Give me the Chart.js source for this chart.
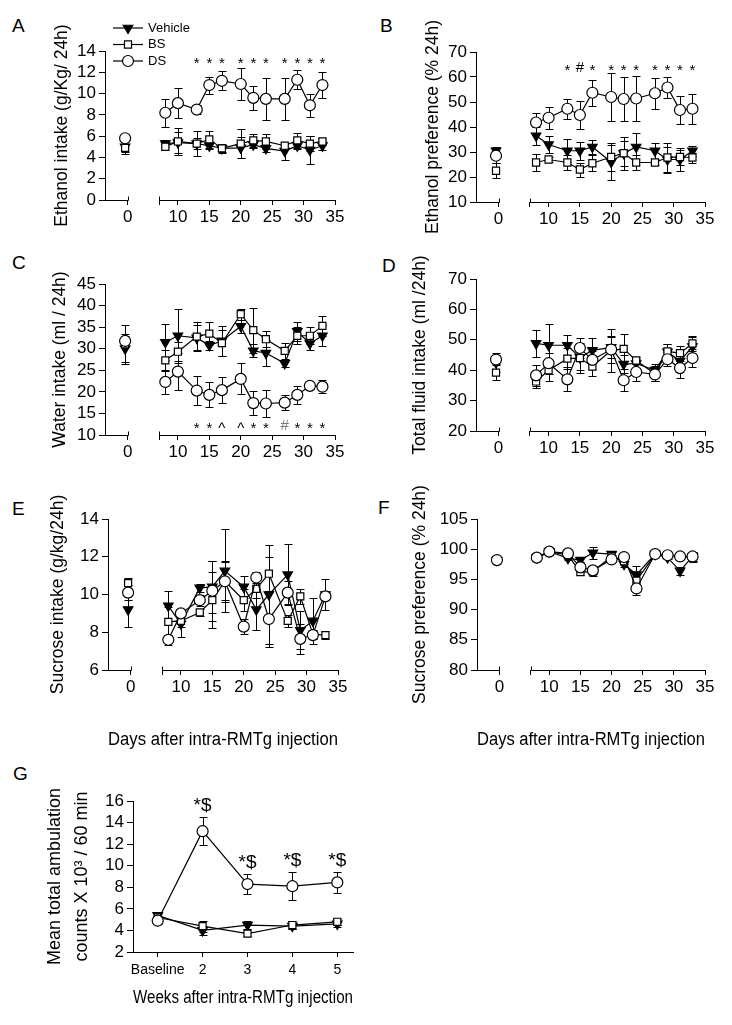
<!DOCTYPE html>
<html lang="en">
<head>
<meta charset="UTF-8">
<title>Intra-RMTg injection: ethanol, water, sucrose and ambulation</title>
<script src="https://cdn.jsdelivr.net/npm/chart.js"></script>
<style>
  body {
    margin: 0;
    background: #fff;
    width: 732px;
    height: 1025px;
    position: relative;
    overflow: hidden;
    font-family: 'Liberation Sans', Arial, sans-serif;
  }
  .letter {
    position: absolute;
    font-size: 19px;
    line-height: 1;
    color: #000;
  }
</style>
</head>
<body>
<div class="letter" style="left:12px;top:16px">A</div>
<div class="letter" style="left:380px;top:16px">B</div>
<div class="letter" style="left:12px;top:253px">C</div>
<div class="letter" style="left:382px;top:256px">D</div>
<div class="letter" style="left:12px;top:499px">E</div>
<div class="letter" style="left:378px;top:498px">F</div>
<div class="letter" style="left:13px;top:764px">G</div>

<script>
// days of measurement (0 = baseline before injection)
const days = [0, 8, 10, 13, 15, 17, 20, 22, 24, 27, 29, 31, 33];
const dayTicks = [10, 15, 20, 25, 30, 35];
const sigDays = [13, 15, 17, 20, 22, 24, 27, 29, 31, 33];

// A - ethanol intake (g/kg/24h)
const aVeh = [5.0, 5.3, 5.4, 5.3, 5.1, 4.85, 4.9, 5.2, 4.85, 4.6, 5.1, 4.7, 5.1];
const aVehErr = [0.7, 0.3, 1.0, 1.2, 0.3, 0.3, 1.0, 0.3, 0.3, 0.8, 0.3, 1.3, 0.4];
const aBs = [4.9, 5.0, 5.5, 5.3, 5.7, 4.85, 5.3, 5.6, 5.5, 5.1, 5.6, 5.3, 5.5];
const aBsErr = [0.4, 0.3, 1.3, 0.5, 0.8, 0.4, 1.4, 0.6, 0.7, 0.3, 0.7, 0.7, 0.3];
const aDs = [5.8, 8.2, 9.1, 8.5, 10.8, 11.2, 10.9, 9.6, 9.5, 9.5, 11.3, 8.9, 10.8];
const aDsErr = [0.3, 1.3, 1.4, 0.4, 0.8, 0.9, 1.5, 1.1, 2.0, 2.0, 0.9, 1.1, 1.2];
const aSig = ['*', '*', '*', '*', '*', '*', '*', '*', '*', '*'];

// B - ethanol preference (%)
const bVeh = [30.5, 36.5, 33.0, 30.5, 30.5, 32.0, 26.0, 29.5, 32.0, 30.5, 27.0, 27.0, 30.5];
const bVehErr = [1.5, 3.5, 3.3, 4.5, 3.7, 2.7, 7.0, 6.5, 5.8, 3.2, 5.0, 4.5, 2.0];
const bBs = [22.5, 25.8, 27.0, 25.8, 23.0, 25.5, 28.0, 29.5, 25.8, 25.8, 27.8, 28.0, 27.8];
const bBsErr = [3.0, 3.3, 1.0, 3.0, 2.8, 3.2, 5.5, 5.0, 3.0, 1.0, 6.0, 3.0, 2.0];
const bDs = [28.5, 41.8, 43.7, 47.3, 44.8, 53.7, 52.0, 51.2, 51.4, 53.5, 55.8, 46.8, 47.3];
const bDsErr = [3.0, 4.0, 4.5, 4.0, 5.7, 5.2, 9.5, 8.7, 9.2, 6.2, 4.3, 5.5, 6.0];
const bSig = ['*', '#', '*', '*', '*', '*', '*', '*', '*', '*'];

// C - water intake (ml/24h)
const cVeh = [30.0, 31.5, 33.0, 32.5, 30.8, 31.8, 35.2, 29.5, 29.0, 26.6, 34.0, 31.2, 33.0];
const cVehErr = [3.0, 4.2, 6.2, 2.9, 1.0, 3.5, 1.5, 1.5, 3.0, 0.8, 2.3, 1.5, 2.4];
const cBs = [31.0, 27.3, 29.3, 32.8, 33.5, 31.3, 38.0, 34.3, 32.2, 29.5, 33.0, 33.0, 35.3];
const cBsErr = [4.5, 2.5, 2.2, 3.3, 2.6, 3.0, 1.3, 5.2, 1.9, 1.8, 2.0, 2.0, 2.3];
const cDs = [31.8, 22.3, 24.7, 20.3, 19.3, 20.4, 23.0, 17.4, 17.3, 17.5, 19.3, 21.4, 21.2];
const cDsErr = [1.5, 2.8, 4.3, 3.4, 2.9, 3.0, 3.6, 2.7, 3.2, 1.8, 2.0, 0.8, 1.5];
const cSig = ['*', '*', '^', '^', '*', '*', '#', '*', '*', '*'];

// D - total fluid intake (ml/24h)
const dVeh = [42.5, 48.8, 48.2, 48.2, 44.2, 46.5, 47.5, 42.0, 42.2, 40.0, 46.0, 43.0, 47.8];
const dVehErr = [3.0, 4.5, 7.0, 3.3, 4.0, 4.2, 3.5, 3.0, 1.5, 2.0, 2.7, 1.8, 3.0];
const dBs = [39.2, 36.3, 40.0, 43.8, 44.0, 41.2, 46.5, 47.0, 43.2, 38.8, 46.2, 45.6, 48.8];
const dBsErr = [2.5, 2.0, 3.5, 3.5, 5.0, 3.0, 7.0, 5.0, 1.2, 2.5, 2.3, 2.5, 2.5];
const dDs = [43.5, 38.3, 42.3, 37.0, 47.3, 43.4, 46.8, 36.7, 39.4, 38.6, 43.6, 40.7, 44.0];
const dDsErr = [1.5, 3.5, 3.5, 4.0, 3.4, 3.0, 4.5, 3.7, 3.0, 2.0, 2.3, 3.3, 3.0];

// E - sucrose intake (g/kg/24h)
const eVeh = [9.2, 9.4, 8.45, 10.35, 10.4, 11.25, 10.4, 9.2, 10.0, 11.05, 8.1, 8.6, 10.0];
const eVehErr = [0.9, 0.8, 0.7, 0.2, 1.4, 2.2, 0.6, 1.1, 2.6, 1.6, 1.0, 1.2, 0.8];
const eBs = [10.6, 8.55, 8.6, 9.05, 9.7, 10.7, 9.7, 10.3, 11.1, 8.6, 9.9, 7.9, 7.85];
const eBsErr = [0.3, 0.8, 0.3, 0.2, 1.5, 1.0, 0.6, 0.5, 0.9, 0.3, 0.4, 0.2, 0.2];
const eDs = [10.1, 7.6, 9.0, 9.7, 10.2, 10.7, 8.3, 10.9, 8.7, 10.1, 7.65, 7.85, 9.9];
const eDsErr = [0.4, 0.25, 0.1, 0.3, 1.6, 1.1, 0.4, 0.3, 1.5, 0.6, 0.8, 0.2, 0.2];

// F - sucrose preference (%)
const fVeh = [98.2, 98.6, 99.6, 98.5, 98.2, 99.4, 99.2, 97.5, 95.8, 99.2, 98.6, 96.4, 98.8];
const fVehErr = [0.2, 0.2, 0.2, 0.3, 0.3, 1.0, 0.3, 0.4, 1.5, 0.3, 0.3, 0.6, 0.8];
const fBs = [98.2, 98.6, 99.6, 99.0, 96.2, 96.3, 98.8, 98.0, 94.8, 99.2, 99.0, 98.8, 98.6];
const fBsErr = [0.2, 0.2, 0.2, 0.3, 0.4, 0.8, 0.3, 0.4, 1.5, 0.3, 0.3, 0.3, 0.8];
const fDs = [98.2, 98.6, 99.6, 99.3, 97.0, 96.5, 98.3, 98.7, 93.5, 99.2, 99.0, 98.8, 98.8];
const fDsErr = [0.2, 0.2, 0.2, 0.2, 0.4, 0.6, 0.3, 0.3, 1.0, 0.3, 0.3, 0.3, 0.8];

// G - ambulation (counts x 10^3 / 60 min)
const weeks = ['Baseline', '2', '3', '4', '5'];
const gVeh = [5.4, 4.0, 4.5, 4.4, 4.6];
const gVehErr = [0.2, 0.4, 0.4, 0.3, 0.3];
const gBs = [5.2, 4.4, 3.7, 4.5, 4.8];
const gBsErr = [0.3, 0.5, 0.2, 0.4, 0.3];
const gDs = [4.9, 13.2, 8.3, 8.1, 8.45];
const gDsErr = [0.3, 1.3, 0.9, 1.3, 1.0];
const gSig = ['', '*$', '*$', '*$', '*$'];

// ---------------------------------------------------------------
Chart.defaults.font.family = "'Liberation Sans', Arial, sans-serif";
Chart.defaults.font.size = 17;
Chart.defaults.color = '#000';
Chart.defaults.animation = false;

const BASE_X = 2;     // where baseline (day 0) sits on the broken axis
const GAP_END = 7;    // right part of the axis starts here
const dayX = days.map(d => d === 0 ? BASE_X - 0.4 : d);
const weekX = weeks.map((w, i) => i);

const LOOK = {
  Vehicle: { pointStyle: 'triangle', pointRotation: 180, pointRadius: 5.5, pointBackgroundColor: '#000', order: 2 },
  BS: { pointStyle: 'rect', pointRadius: 5, pointBackgroundColor: '#fff', order: 1 },
  DS: { pointStyle: 'circle', pointRadius: 5.5, pointBackgroundColor: '#fff', order: 0 }
};

function series(label, xs, vals, errs, broken) {
  const ds = Object.assign({
    label: label,
    data: vals.map((v, i) => ({ x: xs[i], y: v })),
    errors: errs,
    borderColor: '#000',
    borderWidth: 1.2,
    pointBorderColor: '#000',
    pointBorderWidth: 1.2,
    clip: false
  }, LOOK[label]);
  // no line between baseline and the first post-injection day
  if (broken) ds.segment = { borderColor: c => c.p0DataIndex === 0 ? 'rgba(0,0,0,0)' : '#000' };
  return ds;
}

// error bars, drawn under the markers
const errorBars = {
  id: 'errorBars',
  beforeDatasetsDraw(chart) {
    const { ctx, scales: { x, y } } = chart;
    ctx.save();
    ctx.strokeStyle = '#000';
    ctx.lineWidth = 1;
    chart.data.datasets.forEach(ds => {
      ds.data.forEach((p, i) => {
        const e = ds.errors[i];
        if (!e) return;
        const px = Math.round(x.getPixelForValue(p.x)) + 0.5;
        const y1 = Math.round(y.getPixelForValue(p.y + e)) + 0.5;
        const y2 = Math.round(y.getPixelForValue(p.y - e)) + 0.5;
        ctx.beginPath();
        ctx.moveTo(px, y1); ctx.lineTo(px, y2);
        ctx.moveTo(px - 4, y1); ctx.lineTo(px + 4, y1);
        ctx.moveTo(px - 4, y2); ctx.lineTo(px + 4, y2);
        ctx.stroke();
      });
    });
    ctx.restore();
  }
};

// x axis in two pieces: baseline | gap | days 7-35, with end caps
const brokenAxis = {
  id: 'brokenAxis',
  afterDraw(chart, args, opts) {
    if (!opts.on) return;
    const { ctx, chartArea: a, scales: { x } } = chart;
    const yb = Math.round(a.bottom) + 0.5;
    const xb = Math.round(x.getPixelForValue(BASE_X)) + 0.5;
    const xg = Math.round(x.getPixelForValue(GAP_END)) + 0.5;
    ctx.save();
    ctx.strokeStyle = '#000';
    ctx.lineWidth = 1;
    ctx.beginPath();
    ctx.moveTo(a.left, yb); ctx.lineTo(xb, yb);
    ctx.moveTo(xg, yb); ctx.lineTo(a.right, yb);
    ctx.moveTo(xb, yb - 4); ctx.lineTo(xb, yb);
    ctx.moveTo(xg, yb - 4); ctx.lineTo(xg, yb);
    ctx.stroke();
    ctx.restore();
  }
};

// significance symbols on a fixed row
const RISE = { '*': 0.56, '#': 0.36, '^': 0.56 };
const sigMarks = {
  id: 'sigMarks',
  afterDatasetsDraw(chart, args, opts) {
    if (!opts.marks) return;
    const { ctx, scales: { x, y } } = chart;
    ctx.save();
    ctx.font = "15px 'Liberation Sans', Arial, sans-serif";
    ctx.textAlign = 'center';
    ctx.textBaseline = 'alphabetic';
    opts.marks.forEach((m, i) => {
      ctx.fillStyle = (opts.faint && m === opts.faint) ? '#777' : '#000';
      const py = y.getPixelForValue(opts.level) + RISE[m] * 15;
      ctx.fillText(m, x.getPixelForValue(opts.days[i]), py);
    });
    ctx.restore();
  }
};

// "*$" above the DS error bar in panel G
const starOver = {
  id: 'starOver',
  afterDatasetsDraw(chart, args, opts) {
    if (!opts.marks) return;
    const { ctx, scales: { x, y } } = chart;
    const ds = chart.data.datasets.find(d => d.label === 'DS');
    ctx.save();
    ctx.font = "19px 'Liberation Sans', Arial, sans-serif";
    ctx.textAlign = 'center';
    ctx.textBaseline = 'alphabetic';
    ctx.fillStyle = '#000';
    opts.marks.forEach((m, i) => {
      if (!m) return;
      const p = ds.data[i];
      ctx.fillText(m, x.getPixelForValue(p.x), y.getPixelForValue(p.y + ds.errors[i]) - 6);
    });
    ctx.restore();
  }
};

// little legend inside panel A
const lineLegend = {
  id: 'lineLegend',
  afterDraw(chart, args, opts) {
    if (!opts.on) return;
    const { ctx, chartArea: a } = chart;
    const rows = ['Vehicle', 'BS', 'DS'];
    ctx.save();
    ctx.font = "13px 'Liberation Sans', Arial, sans-serif";
    ctx.textBaseline = 'middle';
    rows.forEach((name, i) => {
      const ly = a.top - 23 + i * 16.5;
      const look = LOOK[name];
      ctx.strokeStyle = '#000';
      ctx.lineWidth = 1.2;
      ctx.beginPath();
      ctx.moveTo(a.left + 8, ly); ctx.lineTo(a.left + 38, ly);
      ctx.stroke();
      ctx.fillStyle = look.pointBackgroundColor;
      Chart.helpers.drawPoint(ctx, {
        pointStyle: look.pointStyle, rotation: look.pointRotation || 0,
        radius: look.pointRadius, borderWidth: 1.2
      }, a.left + 23, ly);
      ctx.fillStyle = '#000';
      ctx.fillText(name, a.left + 43, ly);
    });
    ctx.restore();
  }
};

function panel(g, datasets, xScale, yScale, pluginOpts) {
  const size = g.titleSize || 17.5;
  const lh = g.titleLH || 1.2;
  const left = Math.round(g.titleX - lh * size / 2);
  const top = g.t - g.padTop;
  const w = g.r + g.padRight - left;
  const h = g.b + g.xH - top;
  const yW = g.l - left;

  const canvas = document.createElement('canvas');
  canvas.width = w;
  canvas.height = h;
  canvas.style.cssText = `position:absolute;left:${left}px;top:${top}px;width:${w}px;height:${h}px`;
  document.body.appendChild(canvas);

  xScale.afterFit = s => { s.height = g.xH; };
  new Chart(canvas, {
    type: 'line',
    data: { datasets: datasets },
    options: {
      responsive: false,
      devicePixelRatio: 1,
      layout: { padding: { top: g.padTop, right: g.padRight, left: 0, bottom: 0 } },
      plugins: Object.assign({ legend: { display: false }, tooltip: { enabled: false } }, pluginOpts),
      scales: {
        x: xScale,
        y: {
          min: yScale.min,
          max: yScale.max,
          ticks: { stepSize: yScale.step, autoSkip: false, padding: 3, color: '#000', font: { size: 17 } },
          grid: { drawOnChartArea: false, tickLength: 6, color: '#000' },
          border: { color: '#000', width: 1 },
          title: { display: true, text: yScale.title, padding: 0, color: '#000', font: { size: size, lineHeight: lh } },
          afterFit: s => { s.width = yW; }
        }
      }
    },
    plugins: [errorBars, brokenAxis, sigMarks, starOver, lineLegend]
  });
}

function dayAxis(title) {
  const ax = {
    type: 'linear',
    min: -1.6,
    max: 35,
    afterBuildTicks: s => {
      s.ticks = [BASE_X, GAP_END].concat(dayTicks).map(v => ({ value: v }));
    },
    ticks: {
      autoSkip: false,
      maxRotation: 0,
      padding: 2,
      color: '#000',
      font: { size: 17 },
      callback: v => v === BASE_X ? '0' : (v === GAP_END ? '' : v)
    },
    grid: { drawOnChartArea: false, tickLength: 5, color: '#000' },
    border: { display: false }
  };
  if (title) ax.title = { display: true, text: title, padding: 0, color: '#000', font: { size: 18, lineHeight: 1.2 } };
  return ax;
}

function dayPanel(g, veh, vehErr, bs, bsErr, dsv, dsErr, yScale, title, extra) {
  const sets = [
    series('Vehicle', dayX, veh, vehErr, true),
    series('BS', dayX, bs, bsErr, true),
    series('DS', dayX, dsv, dsErr, true)
  ];
  panel(g, sets, dayAxis(title), yScale, Object.assign({ brokenAxis: { on: true } }, extra || {}));
}

dayPanel({ l: 105, t: 51, r: 335, b: 200, titleX: 62, padTop: 36, padRight: 22, xH: 45 },
  aVeh, aVehErr, aBs, aBsErr, aDs, aDsErr,
  { min: 0, max: 14, step: 2, title: 'Ethanol intake (g/Kg/ 24h)' }, null,
  { sigMarks: { marks: aSig, days: sigDays, level: 13.2 }, lineLegend: { on: true } });

dayPanel({ l: 476, t: 52, r: 705, b: 202, titleX: 433, padTop: 36, padRight: 22, xH: 45 },
  bVeh, bVehErr, bBs, bBsErr, bDs, bDsErr,
  { min: 10, max: 70, step: 10, title: 'Ethanol preference (% 24h)' }, null,
  { sigMarks: { marks: bSig, days: sigDays, level: 64 } });

dayPanel({ l: 105, t: 284, r: 335, b: 435, titleX: 60, padTop: 30, padRight: 22, xH: 45 },
  cVeh, cVehErr, cBs, cBsErr, cDs, cDsErr,
  { min: 10, max: 45, step: 5, title: 'Water intake (ml / 24h)' }, null,
  { sigMarks: { marks: cSig, days: sigDays, level: 12.5, faint: '#' } });

dayPanel({ l: 476, t: 279, r: 705, b: 431, titleX: 420, padTop: 30, padRight: 22, xH: 45 },
  dVeh, dVehErr, dBs, dBsErr, dDs, dDsErr,
  { min: 20, max: 70, step: 10, title: 'Total fluid intake (ml /24h)' }, null, {});

dayPanel({ l: 108, t: 519, r: 338, b: 670, titleX: 58, padTop: 35, padRight: 22, xH: 81 },
  eVeh, eVehErr, eBs, eBsErr, eDs, eDsErr,
  { min: 6, max: 14, step: 2, title: 'Sucrose intake (g/kg/24h)' }, 'Days after intra-RMTg injection', {});

dayPanel({ l: 477, t: 519, r: 705, b: 670, titleX: 420, padTop: 35, padRight: 22, xH: 81 },
  fVeh, fVehErr, fBs, fBsErr, fDs, fDsErr,
  { min: 80, max: 105, step: 5, title: 'Sucrose preference (% 24h)' }, 'Days after intra-RMTg injection', {});

// G - weekly ambulation
panel({ l: 133, t: 801, r: 353, b: 952, titleX: 55, titleSize: 18, titleLH: 27 / 18, padTop: 40, padRight: 22, xH: 57 },
  [
    series('Vehicle', weekX, gVeh, gVehErr, false),
    series('BS', weekX, gBs, gBsErr, false),
    series('DS', weekX, gDs, gDsErr, false)
  ],
  {
    type: 'linear',
    min: -0.55,
    max: 4.35,
    afterBuildTicks: s => { s.ticks = weekX.map(v => ({ value: v })); },
    ticks: { autoSkip: false, maxRotation: 0, padding: 5, color: '#000', font: { size: 14 }, callback: v => weeks[v] },
    grid: { drawOnChartArea: false, tickLength: 5, color: '#000' },
    border: { display: true, color: '#000', width: 1 },
    title: { display: true, text: 'Weeks after intra-RMTg injection', padding: 0, color: '#000', font: { size: 18, lineHeight: 1.2 } }
  },
  { min: 2, max: 16, step: 2, title: ['Mean total ambulation', 'counts X 10\u00B3 / 60 min'] },
  { starOver: { marks: gSig } });
</script>
</body>
</html>
